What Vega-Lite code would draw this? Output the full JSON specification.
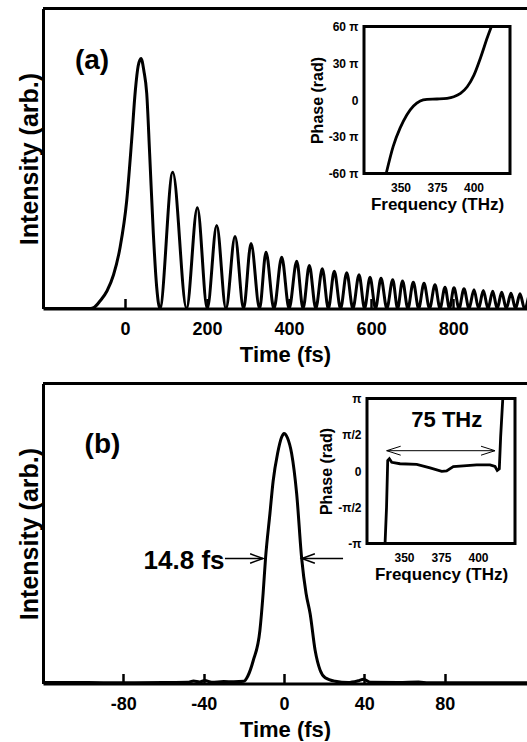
{
  "$schema": "https://vega.github.io/schema/vega-lite/v6.json",
  "padding": {"left": 17, "top": 6.5, "right": 0, "bottom": 0},
  "background": "white",
  "config": {
    "font": "Liberation Sans",
    "view": {"stroke": null},
    "axis": {
      "labelFont": "Liberation Sans", "titleFont": "Liberation Sans",
      "labelFontWeight": "bold", "titleFontWeight": "bold",
      "labelColor": "black", "titleColor": "black",
      "domainColor": "black", "tickColor": "black",
      "grid": false, "labelOverlap": false, "labelFlush": false
    }
  },
  "spacing": 75,
  "bounds": "flush",
  "vconcat": [
    {
      "width": 484, "height": 300,
      "resolve": {"scale": {"x": "independent", "y": "independent"}, "axis": {"x": "independent", "y": "independent"}},
      "layer": [
        {
          "data": {"values": [
            {"t": -200, "I": 0}, {"t": -85, "I": 0}, {"t": -75, "I": 0.005}, {"t": -61, "I": 0.03},
            {"t": -44, "I": 0.07}, {"t": -28, "I": 0.135}, {"t": -12, "I": 0.245}, {"t": 4, "I": 0.43},
            {"t": 16, "I": 0.67}, {"t": 25, "I": 0.87}, {"t": 32, "I": 0.97}, {"t": 39, "I": 1.0},
            {"t": 46, "I": 0.95}, {"t": 52.9, "I": 0.86}, {"t": 60, "I": 0.62}, {"t": 69, "I": 0.3},
            {"t": 77.2, "I": 0.085}, {"t": 85, "I": 0},
            {"t": 116.3, "I": 0.545}, {"t": 150, "I": 0},
            {"t": 176.3, "I": 0.403}, {"t": 200.5, "I": 0},
            {"t": 223.5, "I": 0.332}, {"t": 246, "I": 0},
            {"t": 268.2, "I": 0.288}, {"t": 289, "I": 0},
            {"t": 307.2, "I": 0.26}, {"t": 328, "I": 0},
            {"t": 343.7, "I": 0.225}, {"t": 363, "I": 0},
            {"t": 382, "I": 0.205}, {"t": 400, "I": 0},
            {"t": 418.6, "I": 0.189}, {"t": 434, "I": 0},
            {"t": 449.3, "I": 0.172}, {"t": 465, "I": 0},
            {"t": 481, "I": 0.159}, {"t": 495.6, "I": 0},
            {"t": 510.2, "I": 0.149}, {"t": 525.4, "I": 0},
            {"t": 540.5, "I": 0.143}, {"t": 555.5, "I": 0},
            {"t": 570.5, "I": 0.135}, {"t": 584, "I": 0},
            {"t": 597.3, "I": 0.125}, {"t": 610.7, "I": 0},
            {"t": 624.1, "I": 0.121}, {"t": 638.3, "I": 0},
            {"t": 652.6, "I": 0.115}, {"t": 664.5, "I": 0},
            {"t": 676.5, "I": 0.11}, {"t": 689.6, "I": 0},
            {"t": 702.8, "I": 0.105}, {"t": 715.8, "I": 0},
            {"t": 728.9, "I": 0.101}, {"t": 742.3, "I": 0},
            {"t": 755.7, "I": 0.095}, {"t": 768, "I": 0},
            {"t": 780.1, "I": 0.085}, {"t": 791, "I": 0},
            {"t": 802, "I": 0.083}, {"t": 814.2, "I": 0},
            {"t": 826.4, "I": 0.079}, {"t": 838.6, "I": 0},
            {"t": 850.8, "I": 0.075}, {"t": 862, "I": 0},
            {"t": 873.5, "I": 0.072}, {"t": 885, "I": 0},
            {"t": 896.4, "I": 0.069}, {"t": 907.3, "I": 0},
            {"t": 918.3, "I": 0.065}, {"t": 929.6, "I": 0},
            {"t": 941, "I": 0.061}, {"t": 952, "I": 0},
            {"t": 962.9, "I": 0.059}, {"t": 974, "I": 0},
            {"t": 985, "I": 0.057}
          ]},
          "mark": {"type": "line", "color": "black", "strokeWidth": 3, "interpolate": "monotone", "clip": true},
          "encoding": {
            "x": {"field": "t", "type": "quantitative",
              "scale": {"domain": [-200, 980], "nice": false, "zero": false},
              "axis": {"orient": "bottom", "values": [0, 200, 400, 600, 800], "labelExpr": "'' + datum.value", "title": "Time (fs)", "tickSize": -10, "tickWidth": 2.5,
                "domainWidth": 3, "labelFontSize": 18, "labelPadding": 22, "titleFontSize": 22, "titlePadding": 6}},
            "y": {"field": "I", "type": "quantitative",
              "scale": {"domain": [0, 1.2], "nice": false, "zero": false},
              "axis": {"orient": "left", "ticks": false, "labels": false, "title": "Intensity (arb.)", "titleFontSize": 25,
                "domainWidth": 3, "titlePadding": 1}}
          }
        },
        {
          "data": {"values": [{"top": 1.2}]},
          "mark": {"type": "rule", "strokeWidth": 3, "color": "black"},
          "encoding": {"y": {"field": "top", "type": "quantitative", "scale": {"domain": [0, 1.2], "nice": false, "zero": false}, "axis": null}}
        },
        {
          "data": {"values": [{"label": "(a)", "t": -80.4, "I": 0.99}]},
          "mark": {"type": "text", "fontSize": 28, "fontWeight": "bold", "color": "black"},
          "encoding": {
            "x": {"field": "t", "type": "quantitative", "scale": {"domain": [-200, 980], "nice": false, "zero": false}, "axis": null},
            "y": {"field": "I", "type": "quantitative", "scale": {"domain": [0, 1.2], "nice": false, "zero": false}, "axis": null},
            "text": {"field": "label"}
          }
        },
        {
          "data": {"values": [{"f1": 325, "f2": 425, "p1": -60, "p2": 60}]},
          "mark": {"type": "rect", "fill": "white", "stroke": "black", "strokeWidth": 3},
          "encoding": {
            "x": {"field": "f1", "type": "quantitative",
              "scale": {"domain": [325, 425], "range": [321, 467], "nice": false, "zero": false},
              "axis": {"orient": "bottom", "offset": -135, "values": [350, 375, 400], "domain": false,
                "tickSize": -7, "tickWidth": 2, "labelFontSize": 12, "labelPadding": 16,
                "title": "Frequency (THz)", "titleFontSize": 17, "titlePadding": 3}},
            "x2": {"field": "f2"},
            "y": {"field": "p1", "type": "quantitative",
              "scale": {"domain": [-60, 60], "range": [165, 18], "nice": false, "zero": false},
              "axis": {"orient": "left", "offset": -321, "values": [-60, -30, 0, 30, 60],
                "labelExpr": "datum.value == 0 ? '0' : datum.value + ' π'", "domain": false,
                "tickSize": -7, "tickWidth": 2, "labelFontSize": 12, "labelPadding": 13,
                "title": "Phase (rad)", "titleFontSize": 16, "titlePadding": 3}},
            "y2": {"field": "p2"}
          }
        },
        {
          "data": {"values": [
            {"f": 340.2, "p": -60}, {"f": 345, "p": -37.8}, {"f": 349.7, "p": -23}, {"f": 354.3, "p": -12.2},
            {"f": 358.9, "p": -4.9}, {"f": 363.5, "p": -0.8}, {"f": 368.1, "p": 0.5}, {"f": 375, "p": 0.8},
            {"f": 381.9, "p": 1.4}, {"f": 386.5, "p": 2.7}, {"f": 391.1, "p": 5.4}, {"f": 395.7, "p": 10.8},
            {"f": 400.3, "p": 20.3}, {"f": 405, "p": 35.1}, {"f": 409.6, "p": 51.4}, {"f": 412.3, "p": 60}
          ]},
          "mark": {"type": "line", "color": "black", "strokeWidth": 2.8, "interpolate": "monotone"},
          "encoding": {
            "x": {"field": "f", "type": "quantitative", "scale": {"domain": [325, 425], "range": [321, 467], "nice": false, "zero": false}, "axis": null},
            "y": {"field": "p", "type": "quantitative", "scale": {"domain": [-60, 60], "range": [165, 18], "nice": false, "zero": false}, "axis": null}
          }
        }
      ]
    },
    {
      "width": 484, "height": 300,
      "resolve": {"scale": {"x": "independent", "y": "independent", "shape": "independent"}, "axis": {"x": "independent", "y": "independent"}},
      "layer": [
        {
          "data": {"values": [
            {"t": -121, "I": 0.004}, {"t": -100, "I": 0.004}, {"t": -80, "I": 0.003}, {"t": -60, "I": 0.004},
            {"t": -48, "I": 0.005}, {"t": -45, "I": 0.01}, {"t": -42, "I": 0.006}, {"t": -39.4, "I": 0.012},
            {"t": -36, "I": 0.005}, {"t": -30, "I": 0.008}, {"t": -25, "I": 0.007}, {"t": -20, "I": 0.009},
            {"t": -18, "I": 0.03}, {"t": -15.3, "I": 0.092}, {"t": -12, "I": 0.212}, {"t": -10.4, "I": 0.36},
            {"t": -9.2, "I": 0.5}, {"t": -7, "I": 0.68}, {"t": -5.4, "I": 0.81}, {"t": -3.2, "I": 0.92},
            {"t": -1.2, "I": 0.985}, {"t": 0, "I": 1.0}, {"t": 1.7, "I": 0.983}, {"t": 3.8, "I": 0.92},
            {"t": 6.3, "I": 0.76}, {"t": 8.8, "I": 0.5}, {"t": 11, "I": 0.36}, {"t": 13, "I": 0.28},
            {"t": 15.5, "I": 0.133}, {"t": 18, "I": 0.053}, {"t": 20.5, "I": 0.023}, {"t": 25.5, "I": 0.009},
            {"t": 32, "I": 0.004}, {"t": 37, "I": 0.011}, {"t": 39.6, "I": 0.017}, {"t": 43, "I": 0.005},
            {"t": 57, "I": 0.004}, {"t": 67, "I": 0.006}, {"t": 72, "I": 0.003}, {"t": 100, "I": 0.003},
            {"t": 121, "I": 0.003}
          ]},
          "mark": {"type": "line", "color": "black", "strokeWidth": 3, "interpolate": "monotone", "clip": true},
          "encoding": {
            "x": {"field": "t", "type": "quantitative",
              "scale": {"domain": [-120, 121], "nice": false, "zero": false},
              "axis": {"orient": "bottom", "values": [-80, -40, 0, 40, 80], "labelExpr": "'' + datum.value", "title": "Time (fs)", "tickSize": -10, "tickWidth": 2.5,
                "domainWidth": 3, "labelFontSize": 18, "labelPadding": 22, "titleFontSize": 22, "titlePadding": 6}},
            "y": {"field": "I", "type": "quantitative",
              "scale": {"domain": [0, 1.2], "nice": false, "zero": false},
              "axis": {"orient": "left", "ticks": false, "labels": false, "title": "Intensity (arb.)", "titleFontSize": 25,
                "domainWidth": 3, "titlePadding": 1}}
          }
        },
        {
          "data": {"values": [{"top": 1.2}]},
          "mark": {"type": "rule", "strokeWidth": 3, "color": "black"},
          "encoding": {"y": {"field": "top", "type": "quantitative", "scale": {"domain": [0, 1.2], "nice": false, "zero": false}, "axis": null}}
        },
        {
          "data": {"values": [{"label": "(b)", "t": -81.5, "I": 0.956}, {"label": "14.8 fs", "t": -29.6, "I": 0.49}]},
          "mark": {"type": "text", "fontWeight": "bold", "color": "black", "align": "right", "baseline": "middle"},
          "encoding": {
            "x": {"field": "t", "type": "quantitative", "scale": {"domain": [-120, 121], "nice": false, "zero": false}, "axis": null},
            "y": {"field": "I", "type": "quantitative", "scale": {"domain": [0, 1.2], "nice": false, "zero": false}, "axis": null},
            "text": {"field": "label"},
            "size": {"field": "label", "type": "nominal", "legend": null, "scale": {"domain": ["(b)", "14.8 fs"], "range": [28, 26]}}
          }
        },
        {
          "data": {"values": [{"x1": -29.4, "x2": -10.4, "I": 0.5}, {"x1": 29.4, "x2": 8.9, "I": 0.5}]},
          "mark": {"type": "rule", "strokeWidth": 1.5, "color": "black"},
          "encoding": {
            "x": {"field": "x1", "type": "quantitative", "scale": {"domain": [-120, 121], "nice": false, "zero": false}, "axis": null},
            "x2": {"field": "x2"},
            "y": {"field": "I", "type": "quantitative", "scale": {"domain": [0, 1.2], "nice": false, "zero": false}, "axis": null}
          }
        },
        {
          "data": {"values": [{"t": -10.4, "I": 0.5, "dir": "right"}, {"t": 8.9, "I": 0.5, "dir": "left"}]},
          "mark": {"type": "point", "filled": false, "strokeWidth": 1.5, "size": 676, "color": "black", "opacity": 1},
          "encoding": {
            "x": {"field": "t", "type": "quantitative", "scale": {"domain": [-120, 121], "nice": false, "zero": false}, "axis": null},
            "y": {"field": "I", "type": "quantitative", "scale": {"domain": [0, 1.2], "nice": false, "zero": false}, "axis": null},
            "shape": {"field": "dir", "type": "nominal", "legend": null,
              "scale": {"domain": ["right", "left"], "range": ["M-1,-0.36L0,0L-1,0.36", "M1,-0.36L0,0L1,0.36"]}}
          }
        },
        {
          "data": {"values": [{"f1": 325, "f2": 425, "p1": -1, "p2": 1}]},
          "mark": {"type": "rect", "fill": "white", "stroke": "black", "strokeWidth": 3},
          "encoding": {
            "x": {"field": "f1", "type": "quantitative",
              "scale": {"domain": [325, 425], "range": [324, 472], "nice": false, "zero": false},
              "axis": {"orient": "bottom", "offset": -140, "values": [350, 375, 400], "domain": false,
                "tickSize": -7, "tickWidth": 2, "labelFontSize": 12, "labelPadding": 16,
                "title": "Frequency (THz)", "titleFontSize": 17, "titlePadding": 3}},
            "x2": {"field": "f2"},
            "y": {"field": "p1", "type": "quantitative",
              "scale": {"domain": [-1, 1], "range": [160, 15], "nice": false, "zero": false},
              "axis": {"orient": "left", "offset": -324, "values": [-1, -0.5, 0, 0.5, 1],
                "labelExpr": "datum.value == 1 ? 'π' : datum.value == 0.5 ? 'π/2' : datum.value == 0 ? '0' : datum.value == -0.5 ? '-π/2' : '-π'",
                "domain": false, "tickSize": -7, "tickWidth": 2, "labelFontSize": 12, "labelPadding": 13,
                "title": "Phase (rad)", "titleFontSize": 16, "titlePadding": 3}},
            "y2": {"field": "p2"}
          }
        },
        {
          "data": {"values": [
            {"f": 337.2, "p": -1}, {"f": 338.2, "p": -0.5}, {"f": 339, "p": 0.145}, {"f": 340.1, "p": 0.17},
            {"f": 341.7, "p": 0.12}, {"f": 347.3, "p": 0.1}, {"f": 358.6, "p": 0.09}, {"f": 367.6, "p": 0.044},
            {"f": 375.5, "p": -0.005}, {"f": 378.8, "p": 0.0}, {"f": 383.3, "p": 0.06}, {"f": 390.1, "p": 0.07},
            {"f": 399.1, "p": 0.085}, {"f": 408.1, "p": 0.085}, {"f": 411.5, "p": 0.062}, {"f": 413, "p": 0.007},
            {"f": 414.4, "p": 0.03}, {"f": 415.3, "p": 0.47}, {"f": 416.7, "p": 0.98}, {"f": 417, "p": 1.0}
          ]},
          "mark": {"type": "line", "color": "black", "strokeWidth": 2.8, "interpolate": "linear"},
          "encoding": {
            "x": {"field": "f", "type": "quantitative", "scale": {"domain": [325, 425], "range": [324, 472], "nice": false, "zero": false}, "axis": null},
            "y": {"field": "p", "type": "quantitative", "scale": {"domain": [-1, 1], "range": [160, 15], "nice": false, "zero": false}, "axis": null}
          }
        },
        {
          "data": {"values": [{"f1": 338.3, "f2": 411.5, "p": 0.28}]},
          "mark": {"type": "rule", "strokeWidth": 1, "color": "black"},
          "encoding": {
            "x": {"field": "f1", "type": "quantitative", "scale": {"domain": [325, 425], "range": [324, 472], "nice": false, "zero": false}, "axis": null},
            "x2": {"field": "f2"},
            "y": {"field": "p", "type": "quantitative", "scale": {"domain": [-1, 1], "range": [160, 15], "nice": false, "zero": false}, "axis": null}
          }
        },
        {
          "data": {"values": [{"f": 338.3, "p": 0.28, "dir": "left"}, {"f": 411.5, "p": 0.28, "dir": "right"}]},
          "mark": {"type": "point", "filled": false, "strokeWidth": 1, "size": 784, "color": "black", "opacity": 1},
          "encoding": {
            "x": {"field": "f", "type": "quantitative", "scale": {"domain": [325, 425], "range": [324, 472], "nice": false, "zero": false}, "axis": null},
            "y": {"field": "p", "type": "quantitative", "scale": {"domain": [-1, 1], "range": [160, 15], "nice": false, "zero": false}, "axis": null},
            "shape": {"field": "dir", "type": "nominal", "legend": null,
              "scale": {"domain": ["right", "left"], "range": ["M-1,-0.32L0,0L-1,0.32", "M1,-0.32L0,0L1,0.32"]}}
          }
        },
        {
          "data": {"values": [{"label": "75 THz", "f": 378.9, "p": 0.7}]},
          "mark": {"type": "text", "fontSize": 22, "fontWeight": "bold", "color": "black"},
          "encoding": {
            "x": {"field": "f", "type": "quantitative", "scale": {"domain": [325, 425], "range": [324, 472], "nice": false, "zero": false}, "axis": null},
            "y": {"field": "p", "type": "quantitative", "scale": {"domain": [-1, 1], "range": [160, 15], "nice": false, "zero": false}, "axis": null},
            "text": {"field": "label"}
          }
        }
      ]
    }
  ]
}
